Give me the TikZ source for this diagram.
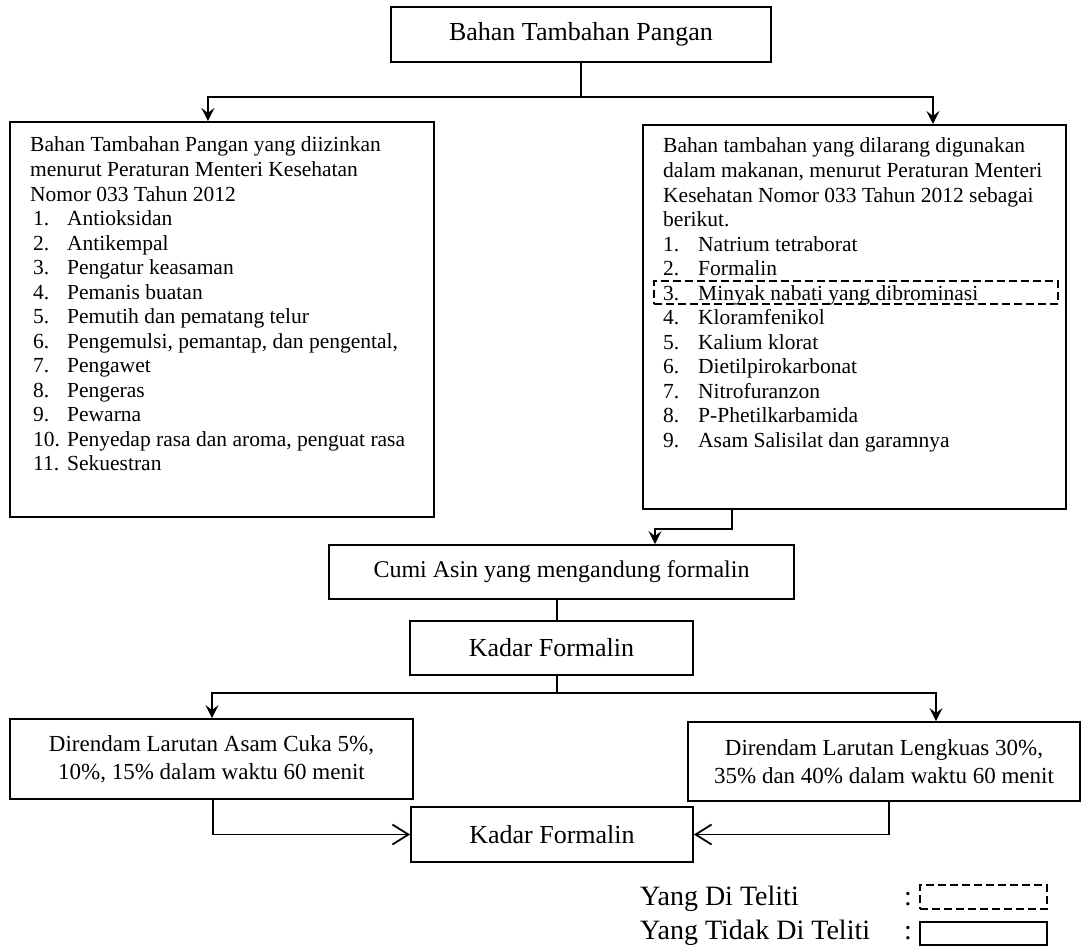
\documentclass[tikz,border=0pt]{standalone}
\usepackage{fontspec}
\setmainfont{Liberation Serif}
\usetikzlibrary{arrows.meta,calc}
\begin{document}
\begin{tikzpicture}[x=1pt,y=-1pt,
  box/.style={draw, line width=1.8pt, inner sep=0pt},
  dbox/.style={draw, line width=1.6pt, dash pattern=on 8pt off 4pt, inner sep=0pt},
  con/.style={line width=1.8pt},
  arr/.style={line width=1.8pt, -{Stealth[length=13pt,width=13pt,inset=5pt]}},
  barb/.style={line width=1.8pt, -{Straight Barb[length=16pt,width=20pt,line width=1.8pt]}},
  lt/.style={anchor=base west, inner sep=0pt, font=\fontsize{21.5}{24.5}\selectfont},
  bigtxt/.style={font=\fontsize{26}{30}\selectfont},
]
\useasboundingbox (0,0) rectangle (1084,947);

% top box
\node[box, minimum width=380pt, minimum height=55pt, bigtxt] (T) at (581,34.5) {Bahan Tambahan Pangan};

% left and right boxes
\node[box, anchor=north west, minimum width=424pt, minimum height=395pt] (L) at (9,121) {};
\node[box, anchor=north west, minimum width=423pt, minimum height=384pt] (R) at (642,124) {};

% left text
\foreach \s [count=\i] in {{Bahan Tambahan Pangan yang diizinkan},{menurut Peraturan Menteri Kesehatan},{Nomor 033 Tahun 2012}}
  \node[lt] (lh\i) at (30,{152+24.5*(\i-1)}) {\s};
\foreach \s [count=\i] in {{Antioksidan},{Antikempal},{Pengatur keasaman},{Pemanis buatan},{Pemutih dan pematang telur},{Pengemulsi, pemantap, dan pengental,},{Pengawet},{Pengeras},{Pewarna},{Penyedap rasa dan aroma, penguat rasa},{Sekuestran}}{
  \node[lt] (ln\i) at (33,{225.5+24.5*(\i-1)}) {\i.};
  \node[lt] (li\i) at (67,{225.5+24.5*(\i-1)}) {\s};
}

% right text
\foreach \s [count=\i] in {{Bahan tambahan yang dilarang digunakan},{dalam makanan, menurut Peraturan Menteri},{Kesehatan Nomor 033 Tahun 2012 sebagai},{berikut.}}
  \node[lt] (rh\i) at (663,{153+24.5*(\i-1)}) {\s};
\foreach \s [count=\i] in {{Natrium tetraborat},{Formalin},{Minyak nabati yang dibrominasi},{Kloramfenikol},{Kalium klorat},{Dietilpirokarbonat},{Nitrofuranzon},{P-Phetilkarbamida},{Asam Salisilat dan garamnya}}{
  \node[lt] (rn\i) at (663,{251+24.5*(\i-1)}) {\i.};
  \node[lt] (ri\i) at (698,{251+24.5*(\i-1)}) {\s};
}

% dashed highlight
\node[dbox, anchor=north west, minimum width=404pt, minimum height=23pt] (D3) at (653,280) {};

% connectors top
\coordinate (jt) at (581,97);
\draw[con] (T.south) -- (jt);
\draw[arr] (jt) -| ([xshift=-14pt]L.north);
\draw[arr] (jt) -| ([xshift=78.5pt]R.north);

% Cumi
\node[box, minimum width=465pt, minimum height=54pt, font=\fontsize{24}{28}\selectfont] (C) at (561.5,572) {Cumi Asin yang mengandung formalin};
\draw[arr] ([xshift=-122.5pt]R.south) -- ++(0,19) -| ([xshift=93.5pt]C.north);

% Kadar
\node[box, minimum width=283pt, minimum height=54pt, bigtxt] (K) at (551.5,648) {Kadar Formalin};
\draw[con] ([xshift=-4.5pt]C.south) -- ([xshift=5.5pt]K.north);

\coordinate (jk) at (557,693);
\draw[con] ([xshift=5.5pt]K.south) -- (jk);

% Direndam boxes
\node[box, minimum width=403pt, minimum height=80pt, align=center, font=\fontsize{23}{28}\selectfont] (D1) at (211.5,759) {Direndam Larutan Asam Cuka 5\%,\\10\%, 15\% dalam waktu 60 menit};
\node[box, minimum width=392pt, minimum height=79pt, align=center, font=\fontsize{23}{28}\selectfont] (D2) at (884,761.5) {Direndam Larutan Lengkuas 30\%,\\35\% dan 40\% dalam waktu 60 menit};
\draw[arr] (jk) -| ([xshift=0.5pt]D1.north);
\draw[arr] (jk) -| ([xshift=52pt]D2.north);

% final Kadar
\node[box, minimum width=282pt, minimum height=55pt, bigtxt] (K2) at (552,834.5) {Kadar Formalin};
\draw[barb] ([xshift=1.5pt]D1.south) |- (K2.west);
\draw[barb] ([xshift=5pt]D2.south) |- (K2.east);

% legend
\node[anchor=base west, inner sep=0pt, font=\fontsize{28}{32}\selectfont] (lg1) at (640,905) {Yang Di Teliti};
\node[anchor=base west, inner sep=0pt, font=\fontsize{28}{32}\selectfont] (lg2) at (640,939) {Yang Tidak Di Teliti};
\node[anchor=base, inner sep=0pt, font=\fontsize{28}{32}\selectfont] (c1) at (908,905) {:};
\node[anchor=base, inner sep=0pt, font=\fontsize{28}{32}\selectfont] (c2) at (908,939) {:};
\node[dbox, anchor=north west, minimum width=127pt, minimum height=24pt] (r1) at (919,884) {};
\node[box, anchor=north west, minimum width=127pt, minimum height=23pt] (r2) at (919,921) {};
\end{tikzpicture}
\end{document}
